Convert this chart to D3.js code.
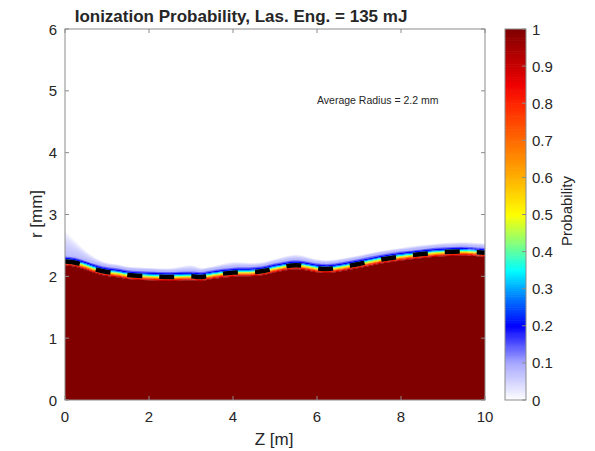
<!DOCTYPE html>
<html><head><meta charset="utf-8">
<script src="https://cdn.jsdelivr.net/npm/d3@7"></script>
<style>
html,body{margin:0;padding:0;background:#fff;}
text{font-family:"Liberation Sans",Arial,Helvetica,sans-serif;fill:#262626;}
</style></head>
<body><svg id="c" width="595" height="451"></svg>
<script>
// ---- data ----
const zVals = [0,0.25,0.5,0.75,1,1.25,1.5,2,2.5,3,3.25,3.5,4,4.5,4.75,5,5.5,6,6.25,6.5,7,7.5,8,8.5,9,9.5,10];
const radius = [2.24,2.22,2.17,2.11,2.07,2.05,2.02,2.00,1.99,2.00,1.99,2.02,2.06,2.07,2.09,2.13,2.18,2.13,2.12,2.14,2.20,2.27,2.32,2.36,2.39,2.40,2.38];
const hazeHeight = [0.4,0.25,0.14,0.08,0.05,0.045,0.04,0.04,0.04,0.08,0.045,0.04,0.07,0.045,0.045,0.05,0.07,0.045,0.04,0.04,0.04,0.04,0.04,0.045,0.05,0.05,0.05];
// transition profile around the boundary: offset ranges (mm) and probability
const bandLo = [-0.065,-0.05,-0.035,-0.02,-0.005,0.01,0.025,0.04,0.06,0.08];
const bandHi = [-0.05,-0.035,-0.02,-0.005,0.01,0.025,0.04,0.06,0.08,0.11];
const bandProb = [0.9,0.8,0.68,0.55,0.45,0.35,0.27,0.2,0.14,0.08];
const cmapPos = [0,0.1,0.2,0.28,0.35,0.42,0.5,0.6,0.7,0.8,0.85,0.9,1];
const cmapCol = ["#ffffff","#a8a8ff","#0000ff","#0080ff","#00ffff","#80ff80","#ffff00","#ffb000","#ff6a00","#ff2400","#f00000","#c80000","#800000"];
const xTicks = [0,2,4,6,8,10];
const yTicks = [0,1,2,3,4,5,6];
const cTicks = [0,0.1,0.2,0.3,0.4,0.5,0.6,0.7,0.8,0.9,1];
const avgRadius = 2.2;

// ---- layout ----
const L=65,R=485,T=29,B=400;
const svg=d3.select("#c");
const x=d3.scaleLinear().domain([0,10]).range([L,R]);
const y=d3.scaleLinear().domain([0,6]).range([B,T]);
const cmap=d3.scaleLinear().domain(cmapPos).range(cmapCol).interpolate(d3.interpolateRgb);
const pts=zVals.map((z,i)=>({z,r:radius[i],h:hazeHeight[i]}));
const curve=d3.curveCatmullRom;

svg.append("clipPath").attr("id","clip").append("rect").attr("x",L).attr("y",T).attr("width",R-L).attr("height",B-T);
const g=svg.append("g").attr("clip-path","url(#clip)");

// haze
const N=12;
for(let k=N;k>=1;k--){
  g.append("path").datum(pts)
   .attr("d",d3.area().curve(curve).x(d=>x(d.z)).y0(d=>y(d.r+0.1)).y1(d=>y(d.r+0.1+d.h*k/N)))
   .attr("fill",cmap(0.1)).attr("fill-opacity",0.09);
}
// bands
for(let i=bandLo.length-1;i>=0;i--){
  g.append("path").datum(pts)
   .attr("d",d3.area().curve(curve).x(d=>x(d.z)).y0(d=>y(d.r+bandLo[i]-0.004)).y1(d=>y(d.r+bandHi[i])))
   .attr("fill",cmap(bandProb[i]));
}
// solid ionized region
g.append("path").datum(pts)
 .attr("d",d3.area().curve(curve).x(d=>x(d.z)).y0(y(-0.5)).y1(d=>y(d.r+bandLo[0])))
 .attr("fill",cmap(1));
// boundary dashed line
g.append("path").datum(pts)
 .attr("d",d3.line().curve(curve).x(d=>x(d.z)).y(d=>y(d.r)))
 .attr("fill","none").attr("stroke","#000").attr("stroke-width",4.5).attr("stroke-dasharray","15,17");

// axes box + ticks
const axc="#8c8c8c";
svg.append("rect").attr("x",L).attr("y",T).attr("width",R-L).attr("height",B-T).attr("fill","none").attr("stroke",axc).attr("stroke-width",1);
const tl=4;
xTicks.forEach(v=>{
  svg.append("line").attr("x1",x(v)).attr("x2",x(v)).attr("y1",B).attr("y2",B-tl).attr("stroke",axc);
  svg.append("line").attr("x1",x(v)).attr("x2",x(v)).attr("y1",T).attr("y2",T+tl).attr("stroke",axc);
  svg.append("text").attr("x",x(v)).attr("y",422).attr("text-anchor","middle").attr("font-size",15).text(v);
});
yTicks.forEach(v=>{
  svg.append("line").attr("x1",L).attr("x2",L+tl).attr("y1",y(v)).attr("y2",y(v)).attr("stroke",axc);
  svg.append("line").attr("x1",R).attr("x2",R-tl).attr("y1",y(v)).attr("y2",y(v)).attr("stroke",axc);
  svg.append("text").attr("x",57).attr("y",y(v)+5.5).attr("text-anchor","end").attr("font-size",15).text(v);
});
svg.append("text").attr("x",274).attr("y",445).attr("text-anchor","middle").attr("font-size",17).text("Z [m]");
svg.append("text").attr("transform","translate(42,214) rotate(-90)").attr("text-anchor","middle").attr("font-size",17).text("r [mm]");
svg.append("text").attr("x",241).attr("y",22).attr("text-anchor","middle").attr("font-size",17).attr("font-weight","bold").text("Ionization Probability, Las. Eng. = 135 mJ");
svg.append("text").attr("x",317).attr("y",104).attr("font-size",10.5).text("Average Radius = "+avgRadius+" mm");

// colorbar
const CL=505,CR=526;
const cy=d3.scaleLinear().domain([0,1]).range([B,T]);
const steps=d3.range(0,1,0.005);
svg.append("g").selectAll("rect").data(steps).join("rect")
 .attr("x",CL).attr("width",CR-CL).attr("y",d=>cy(d+0.005)).attr("height",d=>cy(d)-cy(d+0.005)+0.6)
 .attr("fill",d=>cmap(d+0.0025));
svg.append("rect").attr("x",CL).attr("y",T).attr("width",CR-CL).attr("height",B-T).attr("fill","none").attr("stroke",axc);
cTicks.forEach(v=>{
  svg.append("line").attr("x1",CR).attr("x2",CR-4).attr("y1",cy(v)).attr("y2",cy(v)).attr("stroke",axc);
  svg.append("text").attr("x",532).attr("y",cy(v)+5.5).attr("font-size",15).text(v);
});
svg.append("text").attr("transform","translate(572,211) rotate(-90)").attr("text-anchor","middle").attr("font-size",15).text("Probability");
</script></body></html>
